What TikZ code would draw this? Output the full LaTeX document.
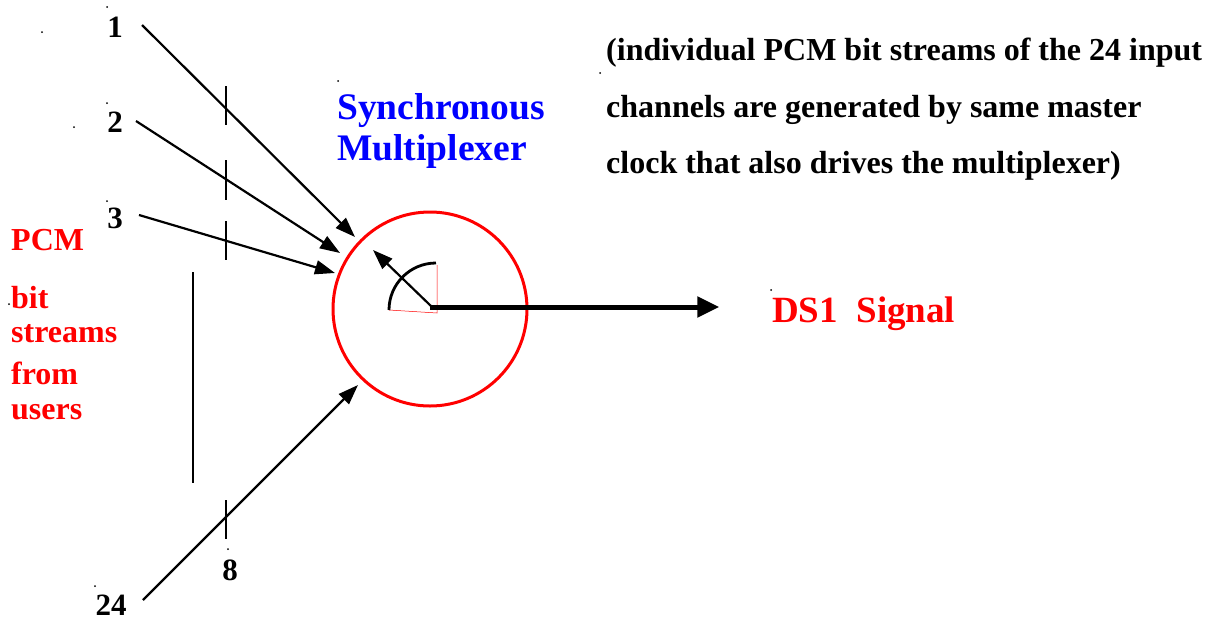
\documentclass[tikz,border=0pt]{standalone}
\usepackage{fontspec}
\setmainfont{Liberation Serif}
\usetikzlibrary{arrows.meta}
\definecolor{myred}{RGB}{255,0,0}
\definecolor{myblue}{RGB}{0,0,255}
\tikzset{
  feed/.style={line width=2.2pt,-{Triangle[length=20pt,width=14pt]}},
  tick/.style={line width=1.8pt},
  num/.style={font=\fontsize{31}{34}\selectfont\bfseries,inner sep=0pt},
  redtxt/.style={font=\fontsize{32}{34}\selectfont\bfseries,text=myred,inner sep=0pt,anchor=west},
  bluetxt/.style={font=\fontsize{37.5}{40}\selectfont\bfseries,text=myblue,inner sep=0pt,anchor=west},
  note/.style={font=\fontsize{32}{34}\selectfont\bfseries,inner sep=0pt,anchor=west},
  speck/.style={fill=black,circle,inner sep=0pt,minimum size=2pt}
}
\begin{document}
\begin{tikzpicture}[x=1pt,y=-1pt]
\useasboundingbox (0,0) rectangle (1217,624);
% specks
\foreach \p in {(42,32),(107,7),(74,127),(107,103),(107,201),(9,304),(228,549),(95,586),(338,81),(600,73),(771,290)}
  \node[speck] at \p {};
% multiplexer circle
\coordinate (c) at (430,309);
\node[draw=myred,line width=3pt,circle,minimum size=194pt,inner sep=0pt] (mux) at (c) {};
% rotating switch
\coordinate (o) at (437,313);
\draw[myred,line width=0.5pt] (389,310) -- (o) -- (437,265);
\draw[line width=2.8pt] (389,310) arc[start angle=180,end angle=270,radius=47];
\draw[line width=2.2pt,-{Triangle[length=20pt,width=14pt]}] (432,307) -- (373,250);
% output
\node[inner sep=0pt] (out) at (720,307) {};
\draw[line width=5pt,-{Triangle[length=22pt,width=20pt]}] (430,307) -- (out);
\node[redtxt,font=\fontsize{37}{40}\selectfont\bfseries] (ds1) at (772,314) {DS1\ \ Signal};
% inputs
\node[num] (n1) at (115,27) {1};
\node[num] (n2) at (115,122) {2};
\node[num] (n3) at (115,218) {3};
\node[num] (n24) at (111,605) {24};
\node[num] (n8) at (230,570) {8};
\coordinate (s1) at (142,25);
\coordinate (s2) at (136,121);
\coordinate (s3) at (139,215);
\coordinate (s24) at (143,600);
\coordinate (e1) at (355,237);
\coordinate (e2) at (340,253);
\coordinate (e3) at (335,273);
\coordinate (e24) at (358,385);
\draw[feed] (s1) -- (e1);
\draw[feed] (s2) -- (e2);
\draw[feed] (s3) -- (e3);
\draw[feed] (s24) -- (e24);
% tick marks
\draw[tick] (226,86) -- (226,125);
\draw[tick] (226,160) -- (226,200);
\draw[tick] (226,221) -- (226,260);
\draw[tick] (226,500) -- (226,539);
\draw[tick] (193,272) -- (193,483);
% left labels
\node[redtxt] (pcm) at (11,240) {PCM};
\node[redtxt] (bit) at (11,298) {bit};
\node[redtxt] (str) at (11,334) {streams};
\node[redtxt] (frm) at (11,373) {from};
\node[redtxt] (usr) at (11,412) {users};
% multiplexer label
\node[bluetxt] (sy) at (337,111) {Synchronous};
\node[bluetxt] (mu) at (337,151) {Multiplexer};
% note
\node[note] (l1) at (606,53) {(individual PCM bit streams of the 24 input};
\node[note] (l2) at (606,110) {channels are generated by same master};
\node[note] (l3) at (606,166) {clock that also drives the multiplexer)};
\end{tikzpicture}
\end{document}
